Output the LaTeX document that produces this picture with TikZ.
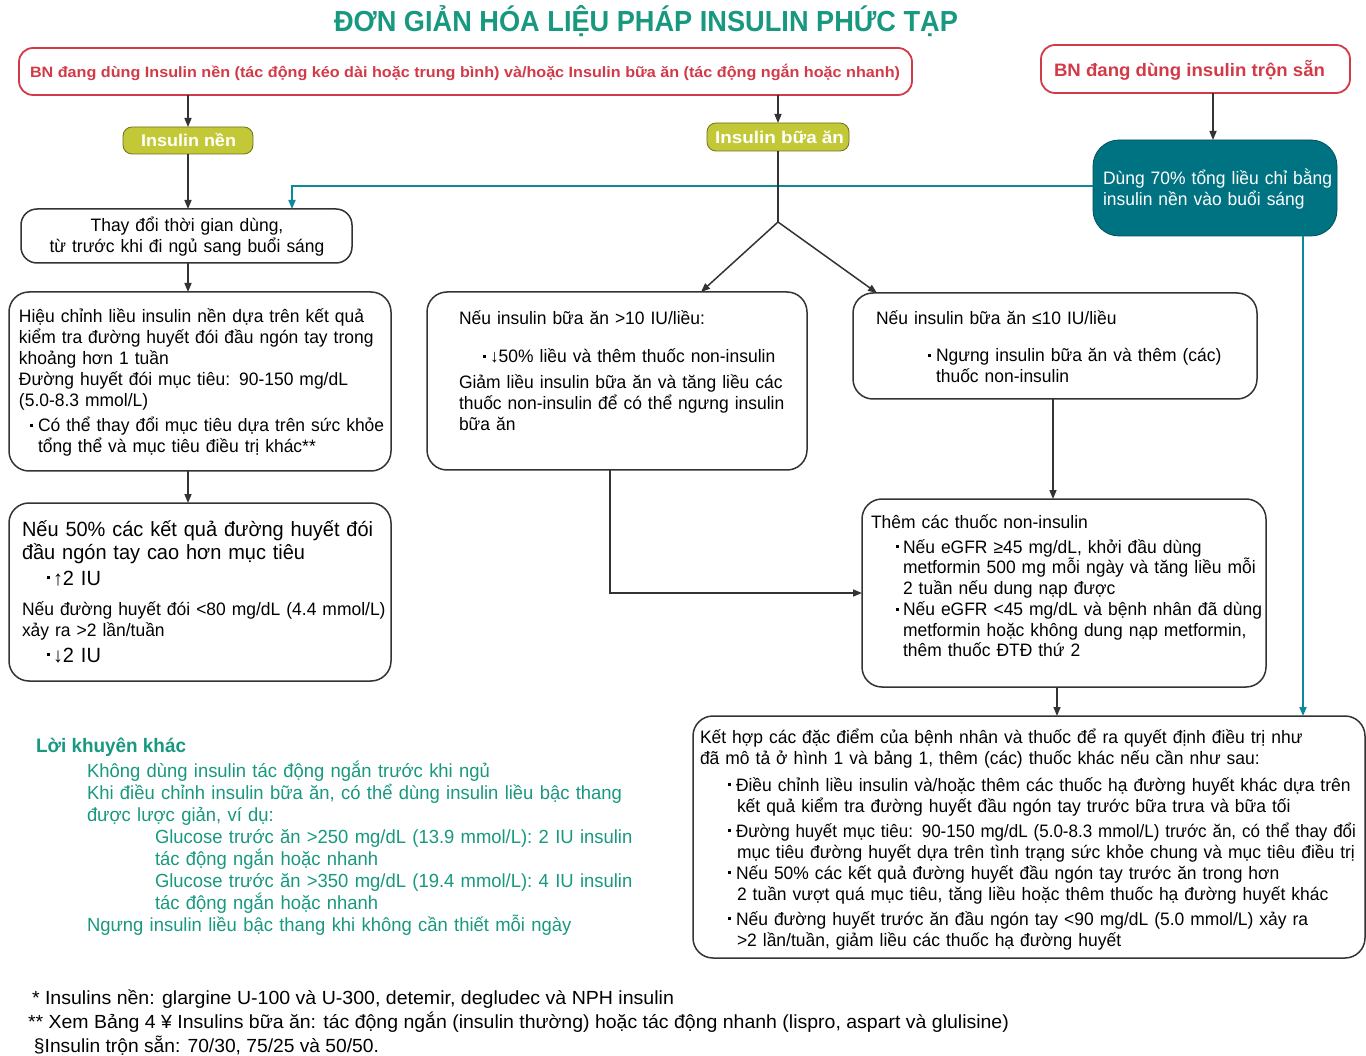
\documentclass[tikz,border=0pt]{standalone}
\usepackage{fontspec}
\setmainfont{Liberation Sans}[FakeStretch=0.97]
\usepackage{graphicx}
\usetikzlibrary{arrows.meta}

\definecolor{linec}{HTML}{333333}
\definecolor{redc}{HTML}{D23A48}
\definecolor{olivec}{HTML}{C3C836}
\definecolor{oliveedge}{HTML}{6E7020}
\definecolor{tealfill}{HTML}{007382}
\definecolor{tealedge}{HTML}{004F5A}
\definecolor{tealline}{HTML}{0A8A9C}
\definecolor{greenc}{HTML}{17987F}

% small square bullet
\newcommand\bul{\rule[0.27em]{3pt}{3pt}}

\begin{document}
\begin{tikzpicture}[x=1pt,y=-1pt,
  every node/.style={inner sep=0pt,outer sep=0pt},
  frame/.style={draw=linec,line width=1.5pt,rounded corners=20pt,fill=white},
  redframe/.style={draw=redc,line width=1.8pt,rounded corners=14pt,fill=white},
  tagbox/.style={draw=oliveedge,line width=0.8pt,fill=olivec,rounded corners=9pt},
  tealbox/.style={draw=tealedge,line width=0.8pt,fill=tealfill,rounded corners=26pt},
  txt/.style={anchor=base west,align=left,text width=#1,font=\fontsize{18}{21}\selectfont,text=black},
  txt/.default=640pt,
  bigtxt/.style={anchor=base west,align=left,text width=400pt,font=\fontsize{20.6}{24}\selectfont,text=black},
  greentxt/.style={anchor=base west,align=left,text width=640pt,font=\fontsize{19}{22.1}\selectfont,text=greenc},
  foot/.style={anchor=base west,font=\fontsize{19}{22}\selectfont,text=black},
  arr/.style={draw=linec,line width=1.5pt,-{Triangle[length=9pt,width=7pt]}},
  plain/.style={draw=linec,line width=1.5pt},
  tarr/.style={draw=tealline,line width=1.8pt,-{Triangle[length=9pt,width=7pt]}},
]
\useasboundingbox (0,0) rectangle (1366,1056);
\clip (0,0) rectangle (1366,1056);

% ---------- title ----------
\node[anchor=base west,text=greenc,font=\bfseries\fontsize{29}{30}\selectfont] (title) at (334,32)
  {\resizebox{624pt}{\height}{ĐƠN GIẢN HÓA LIỆU PHÁP INSULIN PHỨC TẠP}};

% ---------- boxes ----------
\node[redframe,minimum width=893pt,minimum height=47pt] (red1) at (465.5,71.5) {};
\node[redframe,minimum width=309pt,minimum height=48pt] (red2) at (1195.5,69) {};
\node[tagbox,minimum width=130pt,minimum height=27pt] (nen) at (188,140.5) {};
\node[tagbox,minimum width=142pt,minimum height=28pt] (bua) at (778,137) {};
\node[tealbox,minimum width=244pt,minimum height=96pt] (teal) at (1215,188) {};
\node[frame,rounded corners=16pt,minimum width=331pt,minimum height=54pt] (thay) at (186.5,236) {};
\node[frame,minimum width=382pt,minimum height=179pt] (hc) at (200,381.5) {};
\node[frame,minimum width=382pt,minimum height=178pt] (n50) at (200,592) {};
\node[frame,minimum width=380pt,minimum height=178pt] (ml) at (617,381) {};
\node[frame,minimum width=404pt,minimum height=106pt] (mr) at (1055,346) {};
\node[frame,minimum width=404pt,minimum height=188pt] (them) at (1064,593) {};
\node[frame,minimum width=672pt,minimum height=242pt] (fin) at (1029,837) {};

% ---------- box texts ----------
\node[anchor=base west,text=redc,font=\bfseries\fontsize{15}{18}\selectfont] (red1t) at (30,78)
  {\resizebox{870pt}{\height}{BN đang dùng Insulin nền (tác động kéo dài hoặc trung bình) và/hoặc Insulin bữa ăn (tác động ngắn hoặc nhanh)}};
\node[anchor=base west,text=redc,font=\bfseries\fontsize{18}{21}\selectfont] (red2t) at (1054,76.5)
  {\resizebox{271pt}{\height}{BN đang dùng insulin trộn sẵn}};
\node[anchor=base west,text=white,font=\bfseries\fontsize{17}{20}\selectfont] (nent) at (141,147)
  {\resizebox{95pt}{\height}{Insulin nền}};
\node[anchor=base west,text=white,font=\bfseries\fontsize{17}{20}\selectfont] (buat) at (715,143.5)
  {\resizebox{129pt}{\height}{Insulin bữa ăn}};
\node[txt=240pt,text=white] (tealt) at (1103,185)
  {Dùng 70\% tổng liều chỉ bằng\\insulin nền vào buổi sáng};
\node[anchor=base,align=center,text width=330pt,font=\fontsize{18}{21}\selectfont] (thayt) at (187,232)
  {Thay đổi thời gian dùng,\\từ trước khi đi ngủ sang buổi sáng};

\node[txt] (hct) at (19,323)
  {Hiệu chỉnh liều insulin nền dựa trên kết quả\\
   kiểm tra đường huyết đói đầu ngón tay trong\\
   khoảng hơn 1 tuần\\
   Đường huyết đói mục tiêu: 90-150 mg/dL\\
   (5.0-8.3 mmol/L)\\[4pt]
   \hspace*{11pt}\bul\hspace{5pt}Có thể thay đổi mục tiêu dựa trên sức khỏe\\
   \hspace*{19pt}tổng thể và mục tiêu điều trị khác**};

\node[bigtxt] (n50a) at (22,536)
  {Nếu 50\% các kết quả đường huyết đói\\đầu ngón tay cao hơn mục tiêu};
\node[bigtxt] (n50b) at (47,585) {\bul\hspace{3pt}↑2 IU};
\node[txt] (n50c) at (22,615)
  {Nếu đường huyết đói <80 mg/dL (4.4 mmol/L)\\xảy ra >2 lần/tuần};
\node[bigtxt] (n50d) at (47,662) {\bul\hspace{3pt}↓2 IU};

\node[txt] (mlta) at (459,325) {Nếu insulin bữa ăn >10 IU/liều:};
\node[txt] (mltb) at (483,363) {\bul\hspace{4pt}↓50\% liều và thêm thuốc non-insulin};
\node[txt] (mltc) at (459,389)
  {Giảm liều insulin bữa ăn và tăng liều các\\
   thuốc non-insulin để có thể ngưng insulin\\
   bữa ăn};

\node[txt] (mrta) at (876,325) {Nếu insulin bữa ăn ≤10 IU/liều};
\node[txt] (mrtb) at (928,362)
  {\bul\hspace{5pt}Ngưng insulin bữa ăn và thêm (các)\\
   \hspace*{8pt}thuốc non-insulin};

\node[txt] (thema) at (871,528) {Thêm các thuốc non-insulin};
\node[txt,font=\fontsize{18}{20.8}\selectfont] (themb) at (896,553)
  {\bul\hspace{4pt}Nếu eGFR ≥45 mg/dL, khởi đầu dùng\\
   \hspace*{7pt}metformin 500 mg mỗi ngày và tăng liều mỗi\\
   \hspace*{7pt}2 tuần nếu dung nạp được\\
   \bul\hspace{4pt}Nếu eGFR <45 mg/dL và bệnh nhân đã dùng\\
   \hspace*{7pt}metformin hoặc không dung nạp metformin,\\
   \hspace*{7pt}thêm thuốc ĐTĐ thứ 2};

\node[txt] (fina) at (700,743)
  {Kết hợp các đặc điểm của bệnh nhân và thuốc để ra quyết định điều trị như\\
   đã mô tả ở hình 1 và bảng 1, thêm (các) thuốc khác nếu cần như sau:};
\node[txt=720pt] (finb) at (728,791)
  {\bul\hspace{5pt}Điều chỉnh liều insulin và/hoặc thêm các thuốc hạ đường huyết khác dựa trên\\
   \hspace*{9pt}kết quả kiểm tra đường huyết đầu ngón tay trước bữa trưa và bữa tối\\[4pt]
   \bul\hspace{5pt}\resizebox{620pt}{\height}{Đường huyết mục tiêu: 90-150 mg/dL (5.0-8.3 mmol/L) trước ăn, có thể thay đổi}\\
   \hspace*{9pt}mục tiêu đường huyết dựa trên tình trạng sức khỏe chung và mục tiêu điều trị\\
   \bul\hspace{5pt}Nếu 50\% các kết quả đường huyết đầu ngón tay trước ăn trong hơn\\
   \hspace*{9pt}2 tuần vượt quá mục tiêu, tăng liều hoặc thêm thuốc hạ đường huyết khác\\[4pt]
   \bul\hspace{5pt}Nếu đường huyết trước ăn đầu ngón tay <90 mg/dL (5.0 mmol/L) xảy ra\\
   \hspace*{9pt}>2 lần/tuần, giảm liều các thuốc hạ đường huyết};

% ---------- connectors ----------
\coordinate (forkL) at (701,0);
\coordinate (forkR) at (877,0);
\coordinate (fork) at (778,222);
\coordinate (tj) at (292,0);
\coordinate (tjy) at (0,186);
\coordinate (mlx) at (610,0);
\coordinate (mrx) at (1053,0);
\coordinate (thx) at (1057,0);
\coordinate (tlx) at (1303,0);
\coordinate (rx) at (1213,0);

\draw[arr] (nen.north |- red1.south) -- (nen.north);
\draw[arr] (bua.north |- red1.south) -- (bua.north);
\draw[arr] (rx |- red2.south) -- (rx |- teal.north);
\draw[arr] (nen.south) -- (nen.south |- thay.north);
\draw[tarr] (teal.west |- tjy) -| (tj |- thay.north);
\draw[arr] (nen.south |- thay.south) -- (nen.south |- hc.north);
\draw[arr] (nen.south |- hc.south) -- (nen.south |- n50.north);
\draw[plain] (bua.south) -- (fork);
\draw[arr] (fork) -- (forkL |- ml.north);
\draw[arr] (fork) -- (forkR |- mr.north);
\draw[arr] (mlx |- ml.south) |- (them.west);
\draw[arr] (mrx |- mr.south) -- (mrx |- them.north);
\draw[arr] (thx |- them.south) -- (thx |- fin.north);
\draw[tarr] (tlx |- teal.south) -- (tlx |- fin.north);

% ---------- other advice ----------
\node[anchor=base west,text=greenc,font=\bfseries\fontsize{19.5}{22}\selectfont] (advh) at (36,752) {Lời khuyên khác};
\node[greentxt] (advb) at (87,777)
  {Không dùng insulin tác động ngắn trước khi ngủ\\
   Khi điều chỉnh insulin bữa ăn, có thể dùng insulin liều bậc thang\\
   được lược giản, ví dụ:\\
   \hspace*{68pt}Glucose trước ăn >250 mg/dL (13.9 mmol/L): 2 IU insulin\\
   \hspace*{68pt}tác động ngắn hoặc nhanh\\
   \hspace*{68pt}Glucose trước ăn >350 mg/dL (19.4 mmol/L): 4 IU insulin\\
   \hspace*{68pt}tác động ngắn hoặc nhanh\\
   Ngưng insulin liều bậc thang khi không cần thiết mỗi ngày};

% ---------- footnotes ----------
\node[foot] (fn1) at (32,1004)
  {\resizebox{642pt}{\height}{* Insulins nền: glargine U-100 và U-300, detemir, degludec và NPH insulin}};
\node[foot] (fn2) at (28,1028)
  {\resizebox{981pt}{\height}{** Xem Bảng 4 ¥ Insulins bữa ăn: tác động ngắn (insulin thường) hoặc tác động nhanh (lispro, aspart và glulisine)}};
\node[foot] (fn3) at (34,1052)
  {\resizebox{345pt}{\height}{§Insulin trộn sẵn: 70/30, 75/25 và 50/50.}};
\end{tikzpicture}
\end{document}
